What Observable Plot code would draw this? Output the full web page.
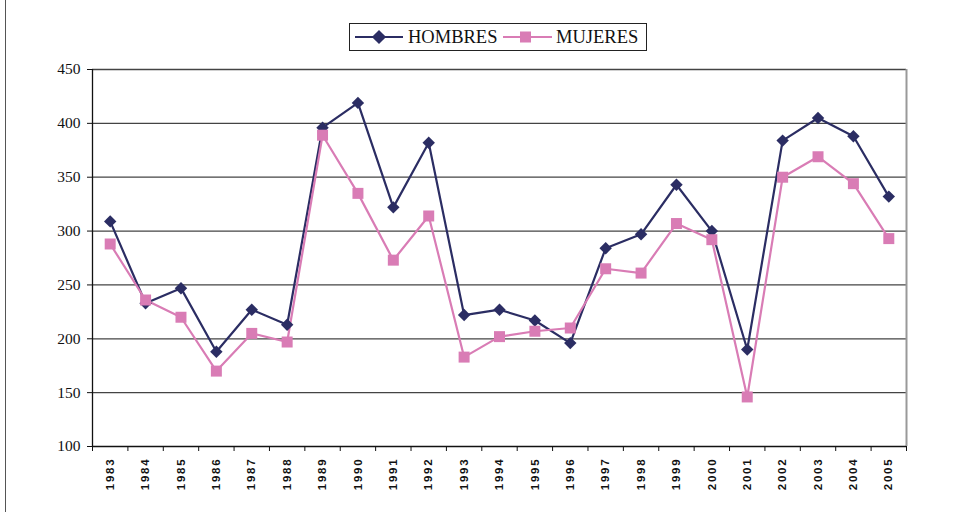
<!DOCTYPE html>
<html>
<head>
<meta charset="utf-8">
<script src="https://cdn.jsdelivr.net/npm/d3@7"></script>
<script src="https://cdn.jsdelivr.net/npm/@observablehq/plot@0.6"></script>
<style>
  html, body { margin: 0; padding: 0; background: #fff; }
  #wrap { position: relative; width: 953px; height: 512px; overflow: hidden; }
  #frame { position: absolute; left: 5px; top: 0; width: 1px; height: 512px; background: #555; }
  #legend { position: absolute; left: 349px; top: 23px; }
</style>
</head>
<body>
<div id="wrap">
  <div id="chart"></div>
  <div id="frame"></div>
  <svg id="legend" width="299" height="29" xmlns="http://www.w3.org/2000/svg">
    <rect x="0.5" y="0.5" width="297" height="27" fill="#fff" stroke="#222" stroke-width="1"/>
    <line x1="6" x2="54" y1="14" y2="14" stroke="#2B2D63" stroke-width="2.2"/>
    <rect x="25" y="9" width="10" height="10" fill="#2B2D63" transform="rotate(45 30 14)"/>
    <text x="59" y="20" font-family="Liberation Serif" font-size="18.5" fill="#111">HOMBRES</text>
    <line x1="154" x2="203" y1="14" y2="14" stroke="#D97CB5" stroke-width="2.2"/>
    <rect x="171" y="8.5" width="11" height="11" fill="#D97CB5"/>
    <text x="207" y="20" font-family="Liberation Serif" font-size="18.5" fill="#111">MUJERES</text>
  </svg>
</div>
<script>
const years = [1983,1984,1985,1986,1987,1988,1989,1990,1991,1992,1993,1994,1995,1996,1997,1998,1999,2000,2001,2002,2003,2004,2005];
const hombres = [309,233,247,188,227,213,396,419,322,382,222,227,217,196,284,297,343,300,190,384,405,388,332];
const mujeres = [288,236,220,170,205,197,389,335,273,314,183,202,207,210,265,261,307,292,146,350,369,344,293];
const yTicks = [100,150,200,250,300,350,400,450];

const data = [];
years.forEach((y, i) => {
  data.push({year: y, value: hombres[i], serie: "HOMBRES"});
  data.push({year: y, value: mujeres[i], serie: "MUJERES"});
});
const xMin = years[0] - 0.5, xMax = years[years.length - 1] + 0.5;
const bounds = years.map(y => y - 0.5).concat([xMax]);

const chart = Plot.plot({
  width: 953,
  height: 512,
  marginLeft: 92,
  marginRight: 47,
  marginTop: 69,
  marginBottom: 66,
  style: {fontFamily: "'Liberation Serif', serif", background: "transparent", color: "#111"},
  x: {type: "linear", domain: [xMin, xMax]},
  y: {domain: [yTicks[0], yTicks[yTicks.length - 1]]},
  marks: [
    Plot.gridY(yTicks.slice(1), {stroke: "#444", strokeOpacity: 1, strokeWidth: 1.3}),
    Plot.ruleX([xMax], {stroke: "#999", strokeWidth: 2}),
    Plot.axisY(yTicks, {tickSize: 5, tickPadding: 7, fontSize: 15.5, stroke: "#111", label: null}),
    Plot.ruleX([xMin], {stroke: "#111", strokeWidth: 1.3}),
    Plot.ruleY([yTicks[0]], {stroke: "#111", strokeWidth: 1.3}),
    Plot.axisX(bounds, {tickSize: 5, tickFormat: () => "", stroke: "#111", label: null}),
    Plot.axisX(years, {tickSize: 0, tickRotate: -90, tickPadding: 11, tickFormat: d => String(d),
      fontWeight: "bold", fontSize: 11.5, label: null}),
    Plot.line(data.filter(d => d.serie === "HOMBRES"), {x: "year", y: "value", stroke: "#2B2D63", strokeWidth: 2.2}),
    Plot.line(data.filter(d => d.serie === "MUJERES"), {x: "year", y: "value", stroke: "#D97CB5", strokeWidth: 2.2}),
    Plot.dot(data.filter(d => d.serie === "HOMBRES"), {x: "year", y: "value", symbol: "diamond2", r: 5.6, fill: "#2B2D63"}),
    Plot.dot(data.filter(d => d.serie === "MUJERES"), {x: "year", y: "value", symbol: "square", r: 6.2, fill: "#D97CB5"})
  ]
});
document.getElementById("chart").appendChild(chart);
const svg = d3.select(chart);
svg.selectAll('g[aria-label="y-axis tick label"]').style("font-family", "'Liberation Serif', serif");
svg.selectAll('g[aria-label="y-axis tick label"] text').style("font-family", "'Liberation Serif', serif").style("font-size", "15.5px");
svg.selectAll('g[aria-label="x-axis tick label"]').style("font-family", "'Liberation Sans', sans-serif");
svg.selectAll('g[aria-label="x-axis tick label"] text').attr("letter-spacing", "1.8px").style("font-family", "'Liberation Sans', sans-serif");
</script>
</body>
</html>
